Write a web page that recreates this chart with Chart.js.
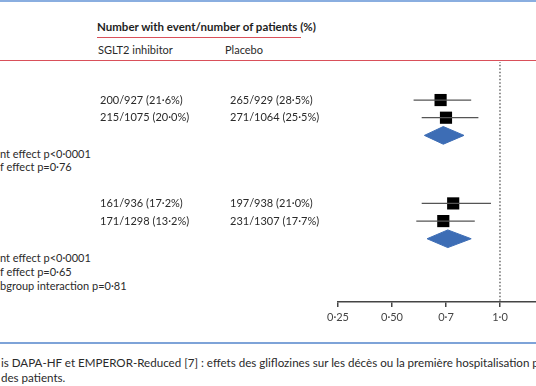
<!DOCTYPE html>
<html>
<head>
<meta charset="utf-8">
<script src="https://cdn.jsdelivr.net/npm/chart.js@4.4.1/dist/chart.umd.min.js"></script>
<style>
  html, body { margin: 0; padding: 0; background: #fff; }
  body { width: 536px; height: 386px; overflow: hidden; position: relative;
         font-family: Lato, "Noto Sans", sans-serif; color: #2a2a2a; }
  #wrap { position: absolute; left: 0; top: 0; width: 536px; height: 386px; }
  .t { position: absolute; white-space: nowrap; font-size: 11px; line-height: 13px; }
  .hr { position: absolute; height: 0; }
</style>
</head>
<body>
<div class="hr" style="left:0;top:0;width:536px;border-top:2px solid #8aaee0"></div>
<div class="t" style="left:97px;top:20px;font-weight:bold;font-size:11.5px;color:#1e1e1e">Number with event/number of patients (%)</div>
<div class="hr" style="left:97px;top:37px;width:204px;border-top:1px solid #d9505a"></div>
<div class="t" style="left:98px;top:43px">SGLT2 inhibitor</div>
<div class="t" style="left:225px;top:43px">Placebo</div>
<div class="hr" style="left:0;top:60px;width:536px;border-top:1.5px solid #d9505a"></div>

<div class="t" style="left:0;top:147px">nt effect p&lt;0·0001</div>
<div class="t" style="left:0;top:160px">f effect p=0·76</div>
<div class="t" style="left:0;top:251px">nt effect p&lt;0·0001</div>
<div class="t" style="left:0;top:265px">f effect p=0·65</div>
<div class="t" style="left:0;top:279px">bgroup interaction p=0·81</div>

<div class="hr" style="left:0;top:342px;width:536px;border-top:2px solid #7ea3d8"></div>
<div class="t" style="left:1px;top:356px;font-size:11.6px">is DAPA-HF et EMPEROR-Reduced [7] : effets des gliflozines sur les décès ou la première hospitalisation pour insuffisance cardiaque</div>
<div class="t" style="left:1px;top:371px;font-size:11.6px">des patients.</div>

<div id="wrap"><canvas id="forest" width="536" height="386"></canvas></div>

<script>
// axis ticks (equally spaced in the figure)
const tickValues = [0.25, 0.50, 0.7, 1.0];
const tickLabels = ['0·25', '0·50', '0·7', '1·0'];

// group 1: DAPA-HF, EMPEROR-Reduced
const g1Sglt2 = ['200/927 (21·6%)', '215/1075 (20·0%)'];
const g1Placebo = ['265/929 (28·5%)', '271/1064 (25·5%)'];
const g1Hr = [0.68, 0.70];
const g1Lo = [0.58, 0.61];
const g1Hi = [0.84, 0.88];
const g1Pooled = [0.69, 0.62, 0.80]; // estimate, low, high

// group 2: DAPA-HF, EMPEROR-Reduced
const g2Sglt2 = ['161/936 (17·2%)', '171/1298 (13·2%)'];
const g2Placebo = ['197/938 (21·0%)', '231/1307 (17·7%)'];
const g2Hr = [0.74, 0.69];
const g2Lo = [0.61, 0.59];
const g2Hi = [0.95, 0.86];
const g2Pooled = [0.71, 0.63, 0.84];

// layout
const GROUP2_START = 5.85; // rows
const DIAMOND_HALF = 0.5;  // rows
const X_MAX = 3.667;       // right edge, in tick steps

// map a ratio onto the equally spaced tick positions
function pos(v) {
  let i = 0;
  while (i < tickValues.length - 2 && v > tickValues[i + 1]) i++;
  return i + (v - tickValues[i]) / (tickValues[i + 1] - tickValues[i]);
}

const groups = [
  { start: 0, sglt2: g1Sglt2, placebo: g1Placebo, hr: g1Hr, lo: g1Lo, hi: g1Hi, pooled: g1Pooled },
  { start: GROUP2_START, sglt2: g2Sglt2, placebo: g2Placebo, hr: g2Hr, lo: g2Lo, hi: g2Hi, pooled: g2Pooled }
];

const datasets = [];
const textRows = [];
const squares = [];
groups.forEach(g => {
  g.hr.forEach((v, i) => {
    const y = g.start + i;
    datasets.push({
      type: 'scatter', showLine: true,
      data: [{ x: pos(g.lo[i]), y: y }, { x: pos(g.hi[i]), y: y }],
      borderColor: '#555', borderWidth: 1.3, pointRadius: 0
    });
    squares.push({ x: pos(v), y: y });
    textRows.push({ y: y, a: g.sglt2[i], b: g.placebo[i] });
  });
  const y = g.start + g.hr.length;
  const [est, lo, hi] = g.pooled;
  datasets.push({
    type: 'scatter', showLine: true, fill: 'shape',
    data: [
      { x: pos(lo), y: y }, { x: pos(est), y: y - DIAMOND_HALF },
      { x: pos(hi), y: y }, { x: pos(est), y: y + DIAMOND_HALF },
      { x: pos(lo), y: y }
    ],
    borderColor: '#3d6db5', backgroundColor: '#3d6db5', borderWidth: 1,
    pointRadius: 0, tension: 0
  });
});
datasets.push({
  type: 'scatter', data: squares, pointStyle: 'rect', pointRadius: 8.6,
  backgroundColor: '#000', borderColor: '#000', borderWidth: 0
});
// line of no effect
datasets.push({
  type: 'scatter', showLine: true,
  data: [{ x: pos(1.0), y: -2.2 }, { x: pos(1.0), y: 11.5 }],
  borderColor: '#444', borderWidth: 1.2, borderDash: [1.5, 2], pointRadius: 0
});

const rowText = {
  id: 'rowText',
  afterDraw(chart) {
    const ctx = chart.ctx, ys = chart.scales.y;
    ctx.save();
    ctx.font = '11px Lato, "Noto Sans", sans-serif';
    ctx.fillStyle = '#2a2a2a';
    ctx.textBaseline = 'middle';
    textRows.forEach(r => {
      const py = ys.getPixelForValue(r.y);
      ctx.fillText(r.a, 100, py);
      ctx.fillText(r.b, 230, py);
    });
    ctx.restore();
  }
};

new Chart(document.getElementById('forest'), {
  type: 'scatter',
  data: { datasets: datasets },
  options: {
    responsive: false, animation: false,
    layout: { autoPadding: false, padding: { left: 338, right: 0, top: 62, bottom: 44 } },
    plugins: { legend: { display: false }, tooltip: { enabled: false } },
    scales: {
      x: {
        type: 'linear', min: 0, max: X_MAX, bounds: 'data',
        afterBuildTicks: s => { s.ticks = tickValues.map((v, i) => ({ value: i })); },
        afterFit: s => { s.height = 40; s.paddingLeft = 0; s.paddingRight = 0; },
        grid: { drawOnChartArea: false, drawTicks: true, tickLength: 5, color: '#444', lineWidth: 1.5 },
        border: { display: true, color: '#444', width: 1.5 },
        ticks: {
          callback: (v, i) => tickLabels[i], color: '#444', padding: 4,
          font: { family: 'Lato', size: 11 }, maxRotation: 0, autoSkip: false
        }
      },
      y: { type: 'linear', reverse: true, min: -2.153, max: 11.43, display: false }
    }
  },
  plugins: [rowText]
});
</script>
</body>
</html>
